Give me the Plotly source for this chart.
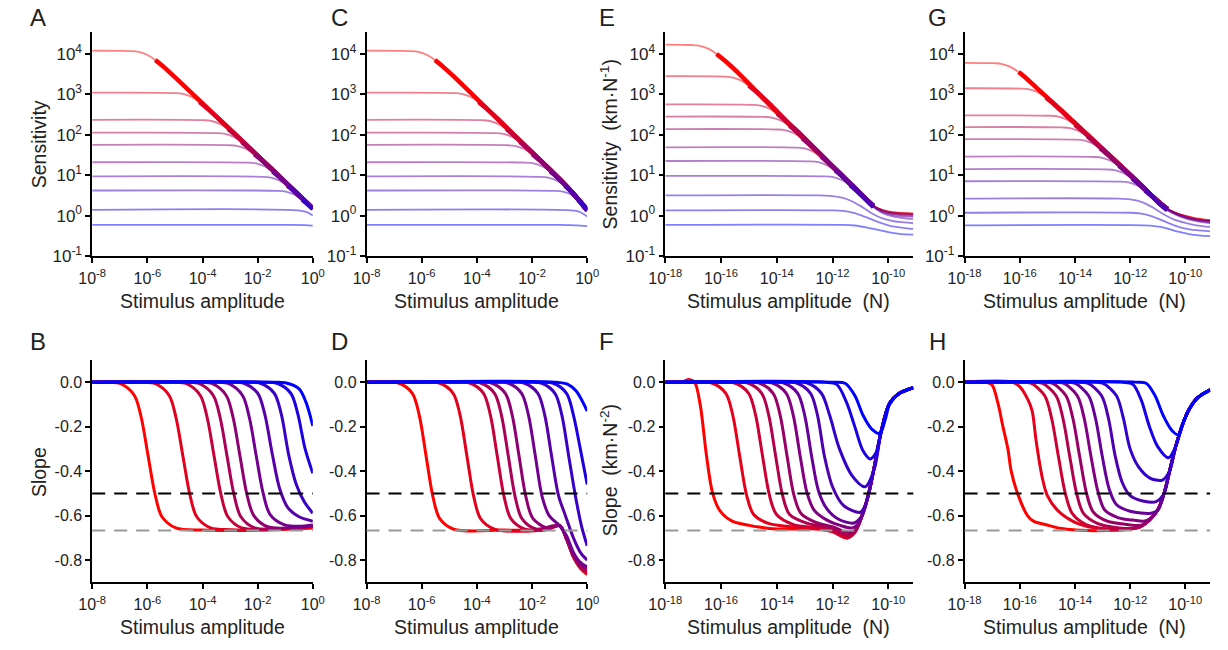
import numpy as np
import plotly.graph_objects as go

# ---------------- DATA (log10 stimulus, log10 sensitivity / slope) ----------------
# Panel A: sensitivity curves (10)
A_lx = [
    [-8, -6.61, -6.31, -6.01, -5.71, -5.41, -5.01, -3, -1, 0],
    [-8, -5.01, -4.71, -4.41, -4.11, -3.81, -3.41, -2, -1, 0],
    [-8, -3.97, -3.67, -3.37, -3.07, -2.77, -2.37, -1, 0],
    [-8, -3.48, -3.18, -2.88, -2.58, -2.28, -1.88, -1, 0],
    [-8, -3.02, -2.72, -2.42, -2.12, -1.82, -1.42, -0.7, 0],
    [-8, -2.36, -2.06, -1.76, -1.46, -1.16, -0.76, 0],
    [-8, -1.82, -1.52, -1.22, -0.92, -0.62, -0.22, 0],
    [-8, -1.28, -0.98, -0.68, -0.38, 0],
    [-8, -0.54, -0.24, 0],
    [-8, -1.0, -0.3, 0],
]
A_ly = [
    [4.08, 4.07, 4.05, 3.98, 3.85, 3.68, 3.43, 2.13, 0.83, 0.18],
    [3.04, 3.03, 3.01, 2.94, 2.81, 2.64, 2.39, 1.48, 0.83, 0.18],
    [2.37, 2.36, 2.34, 2.27, 2.14, 1.97, 1.72, 0.83, 0.17],
    [2.05, 2.04, 2.02, 1.95, 1.82, 1.65, 1.40, 0.83, 0.17],
    [1.75, 1.74, 1.72, 1.65, 1.52, 1.35, 1.10, 0.63, 0.17],
    [1.32, 1.31, 1.29, 1.22, 1.09, 0.92, 0.67, 0.17],
    [0.97, 0.96, 0.94, 0.87, 0.74, 0.57, 0.32, 0.17],
    [0.62, 0.61, 0.59, 0.52, 0.39, 0.17],
    [0.14, 0.13, 0.09, 0.0],
    [-0.23, -0.23, -0.235, -0.25],
]
A_thick_from = [-5.71, -4.11, -3.07, -2.58, -2.12, -1.46, -0.92, -0.38, None, None]
A_thick_to = 0

# Panel C
C_lx = [
    [-8, -6.42, -6.12, -5.82, -5.52, -5.22, -4.82, -3, -2, -1, -0.5, 0],
    [-8, -4.84, -4.54, -4.24, -3.94, -3.64, -3.24, -2, -1, -0.5, 0],
    [-8, -3.83, -3.53, -3.23, -2.93, -2.63, -2.23, -1, -0.5, 0],
    [-8, -3.34, -3.04, -2.74, -2.44, -2.14, -1.74, -1, -0.5, 0],
    [-8, -2.89, -2.59, -2.29, -1.99, -1.69, -1.29, -0.5, 0],
    [-8, -2.24, -1.94, -1.64, -1.34, -1.04, -0.64, 0],
    [-8, -1.71, -1.41, -1.11, -0.81, -0.51, 0],
    [-8, -1.18, -0.88, -0.58, -0.28, 0],
    [-8, -0.6, -0.3, 0],
    [-8, -1.0, -0.4, 0],
]
C_ly = [
    [4.08, 4.07, 4.05, 3.98, 3.85, 3.68, 3.43, 2.22, 1.56, 0.90, 0.54, 0.13],
    [3.04, 3.03, 3.01, 2.94, 2.81, 2.64, 2.39, 1.56, 0.90, 0.54, 0.13],
    [2.37, 2.36, 2.34, 2.27, 2.14, 1.97, 1.72, 0.90, 0.54, 0.13],
    [2.05, 2.04, 2.02, 1.95, 1.82, 1.65, 1.40, 0.90, 0.54, 0.13],
    [1.75, 1.74, 1.72, 1.65, 1.52, 1.35, 1.10, 0.54, 0.13],
    [1.32, 1.31, 1.29, 1.22, 1.09, 0.92, 0.64, 0.13],
    [0.97, 0.96, 0.94, 0.87, 0.74, 0.55, 0.12],
    [0.62, 0.61, 0.59, 0.52, 0.37, 0.16],
    [0.14, 0.13, 0.10, -0.02],
    [-0.23, -0.23, -0.24, -0.26],
]
C_thick_from = [-5.52, -3.94, -2.93, -2.44, -1.99, -1.34, -0.81, -0.28, None, None]
C_thick_to = 0

# Panel E (11 curves)
E_lx = [
    [-18, -17.06, -16.76, -16.46, -16.16, -15.86, -15.46, -14, -12, -11.47, -10.94, -10.53, -10.25, -9.95, -9.6, -9.1],
    [-18, -15.91, -15.61, -15.31, -15.01, -14.71, -14.31, -13, -12, -11.47, -10.94, -10.53, -10.25, -9.95, -9.6, -9.1],
    [-18, -14.88, -14.58, -14.28, -13.98, -13.68, -13.28, -12, -11.47, -10.94, -10.53, -10.25, -9.95, -9.6, -9.1],
    [-18, -14.44, -14.14, -13.84, -13.54, -13.24, -12.84, -12, -11.47, -10.94, -10.53, -10.25, -9.95, -9.6, -9.1],
    [-18, -13.98, -13.68, -13.38, -13.08, -12.78, -12.38, -11.47, -10.94, -10.53, -10.25, -9.95, -9.6, -9.1],
    [-18, -13.31, -13.01, -12.71, -12.41, -12.11, -11.71, -11.2, -10.94, -10.53, -10.25, -9.95, -9.6, -9.1],
    [-18, -12.81, -12.51, -12.21, -11.91, -11.61, -11.21, -10.94, -10.53, -10.25, -9.95, -9.6, -9.1],
    [-18, -12.27, -11.97, -11.67, -11.37, -11.07, -10.75, -10.53, -10.25, -9.95, -9.6, -9.1],
    [-18, -12.5, -12.0, -11.5, -11.0, -10.6, -10.2, -9.8, -9.4, -9.1],
    [-18, -12.0, -11.6, -11.2, -10.8, -10.4, -10.0, -9.6, -9.1],
    [-18, -11.6, -11.2, -10.8, -10.4, -10.0, -9.6, -9.1],
]
E_ly = [
    [4.23, 4.22, 4.20, 4.13, 4.00, 3.83, 3.58, 2.56, 1.21, 0.85, 0.50, 0.24, 0.15, 0.095, 0.07, 0.05],
    [3.45, 3.44, 3.42, 3.35, 3.22, 3.05, 2.80, 1.88, 1.21, 0.85, 0.50, 0.24, 0.15, 0.09, 0.065, 0.045],
    [2.75, 2.74, 2.72, 2.65, 2.52, 2.35, 2.10, 1.21, 0.85, 0.50, 0.24, 0.145, 0.085, 0.06, 0.04],
    [2.45, 2.44, 2.42, 2.35, 2.22, 2.05, 1.80, 1.21, 0.85, 0.50, 0.24, 0.14, 0.08, 0.05, 0.03],
    [2.14, 2.13, 2.11, 2.04, 1.91, 1.74, 1.49, 0.85, 0.50, 0.235, 0.13, 0.07, 0.04, 0.02],
    [1.69, 1.68, 1.66, 1.59, 1.46, 1.29, 1.04, 0.68, 0.50, 0.23, 0.12, 0.05, 0.02, 0.0],
    [1.35, 1.34, 1.32, 1.25, 1.12, 0.95, 0.70, 0.50, 0.225, 0.10, 0.03, -0.01, -0.03],
    [0.98, 0.97, 0.95, 0.88, 0.75, 0.58, 0.36, 0.21, 0.08, 0.0, -0.05, -0.09],
    [0.50, 0.50, 0.48, 0.41, 0.24, 0.06, -0.07, -0.14, -0.17, -0.19],
    [0.13, 0.13, 0.115, 0.06, -0.04, -0.15, -0.24, -0.29, -0.33],
    [-0.23, -0.23, -0.245, -0.29, -0.35, -0.41, -0.45, -0.47],
]
E_thick_from = [-16.16, -15.01, -13.98, -13.54, -13.08, -12.41, -11.91, -11.37, None, None, None]
E_thick_to = -10.53

# Panel G (11 curves)
G_lx = [
    [-18, -16.94, -16.64, -16.34, -16.04, -15.74, -15.34, -14, -12, -11.2, -10.9, -10.65, -10.35, -10.0, -9.6, -9.1],
    [-18, -15.95, -15.65, -15.35, -15.05, -14.75, -14.35, -13, -12, -11.2, -10.9, -10.65, -10.35, -10.0, -9.6, -9.1],
    [-18, -14.90, -14.60, -14.30, -14.00, -13.70, -13.30, -12, -11.2, -10.9, -10.65, -10.35, -10.0, -9.6, -9.1],
    [-18, -14.45, -14.15, -13.85, -13.55, -13.25, -12.85, -12, -11.2, -10.9, -10.65, -10.35, -10.0, -9.6, -9.1],
    [-18, -13.98, -13.68, -13.38, -13.08, -12.78, -12.38, -11.5, -11.2, -10.9, -10.65, -10.35, -10.0, -9.6, -9.1],
    [-18, -13.31, -13.01, -12.71, -12.41, -12.11, -11.71, -11.2, -10.9, -10.65, -10.35, -10.0, -9.6, -9.1],
    [-18, -12.83, -12.53, -12.23, -11.93, -11.63, -11.23, -10.9, -10.65, -10.35, -10.0, -9.6, -9.1],
    [-18, -12.36, -12.06, -11.76, -11.46, -11.16, -10.9, -10.65, -10.35, -10.0, -9.6, -9.1],
    [-18, -12.4, -12.0, -11.6, -11.2, -10.8, -10.4, -10.0, -9.6, -9.1],
    [-18, -12.0, -11.6, -11.2, -10.8, -10.4, -10.0, -9.6, -9.1],
    [-18, -11.5, -11.1, -10.7, -10.3, -9.9, -9.5, -9.1],
]
G_ly = [
    [3.78, 3.77, 3.75, 3.68, 3.55, 3.38, 3.13, 2.29, 1.01, 0.48, 0.30, 0.17, 0.07, -0.01, -0.07, -0.11],
    [3.15, 3.14, 3.12, 3.05, 2.92, 2.75, 2.50, 1.65, 1.01, 0.48, 0.30, 0.17, 0.07, -0.01, -0.075, -0.115],
    [2.48, 2.47, 2.45, 2.38, 2.25, 2.08, 1.83, 1.01, 0.48, 0.30, 0.17, 0.065, -0.015, -0.08, -0.12],
    [2.19, 2.18, 2.16, 2.09, 1.96, 1.79, 1.54, 1.01, 0.48, 0.30, 0.165, 0.06, -0.02, -0.09, -0.13],
    [1.89, 1.88, 1.86, 1.79, 1.66, 1.49, 1.24, 0.69, 0.48, 0.30, 0.16, 0.055, -0.03, -0.10, -0.14],
    [1.46, 1.45, 1.43, 1.36, 1.23, 1.06, 0.81, 0.47, 0.29, 0.155, 0.05, -0.04, -0.11, -0.15],
    [1.15, 1.14, 1.12, 1.05, 0.92, 0.75, 0.50, 0.28, 0.145, 0.04, -0.05, -0.12, -0.16],
    [0.85, 0.84, 0.82, 0.75, 0.62, 0.45, 0.27, 0.13, 0.02, -0.07, -0.14, -0.19],
    [0.42, 0.42, 0.40, 0.34, 0.21, 0.04, -0.10, -0.18, -0.24, -0.28],
    [0.07, 0.07, 0.05, -0.02, -0.13, -0.24, -0.32, -0.36, -0.39],
    [-0.24, -0.24, -0.26, -0.31, -0.39, -0.45, -0.49, -0.51],
]
G_thick_from = [-16.04, -15.05, -14.00, -13.55, -13.08, -12.41, -11.93, -11.46, None, None, None]
G_thick_to = -10.65

# Panel B: slope curves (10)
B_lx = [
    [-8, -7.47, -6.97, -6.47, -6.22, -5.97, -5.72, -5.47, -4.97, -4, -2, 0],
    [-8, -6.21, -5.71, -5.21, -4.96, -4.71, -4.46, -4.21, -3.71, -3, -1.5, 0],
    [-8, -5.08, -4.58, -4.08, -3.83, -3.58, -3.33, -3.08, -2.58, -1.5, 0],
    [-8, -4.61, -4.11, -3.61, -3.36, -3.11, -2.86, -2.61, -2.11, -1, 0],
    [-8, -4.14, -3.64, -3.14, -2.89, -2.64, -2.39, -2.14, -1.64, -0.8, 0],
    [-8, -3.55, -3.05, -2.55, -2.30, -2.05, -1.80, -1.55, -1.05, -0.5, 0],
    [-8, -3.0, -2.5, -2.0, -1.75, -1.46, -1.2, -0.9, -0.5, 0],
    [-8, -2.4, -1.9, -1.4, -1.15, -0.87, -0.6, -0.3, 0],
    [-8, -1.8, -1.3, -0.8, -0.55, -0.28, 0],
    [-8, -1.5, -1.0, -0.5, -0.25, 0],
]
B_y = [
    [0, 0, -0.007, -0.06, -0.16, -0.333, -0.505, -0.605, -0.655, -0.665, -0.665, -0.655],
    [0, 0, -0.007, -0.06, -0.16, -0.333, -0.505, -0.605, -0.655, -0.663, -0.662, -0.650],
    [0, 0, -0.007, -0.06, -0.16, -0.333, -0.505, -0.605, -0.655, -0.660, -0.648],
    [0, 0, -0.007, -0.06, -0.16, -0.333, -0.505, -0.605, -0.655, -0.658, -0.646],
    [0, 0, -0.007, -0.06, -0.16, -0.333, -0.505, -0.600, -0.650, -0.655, -0.645],
    [0, 0, -0.007, -0.06, -0.16, -0.333, -0.500, -0.595, -0.640, -0.648, -0.642],
    [0, 0, -0.005, -0.05, -0.14, -0.33, -0.48, -0.565, -0.605, -0.625],
    [0, 0, -0.005, -0.05, -0.14, -0.33, -0.46, -0.54, -0.589],
    [0, 0, -0.005, -0.05, -0.14, -0.30, -0.41],
    [0, 0, -0.003, -0.03, -0.09, -0.197],
]

# Panel D
D_lx = [
    [-8, -7.34, -6.84, -6.34, -6.09, -5.84, -5.59, -5.34, -4.84, -3, -1.5, -1.0, -0.75, -0.5, -0.25, 0],
    [-8, -5.86, -5.36, -4.86, -4.61, -4.36, -4.11, -3.86, -3.36, -1.5, -1.0, -0.75, -0.5, -0.25, 0],
    [-8, -4.76, -4.26, -3.76, -3.51, -3.26, -3.01, -2.76, -2.26, -1.5, -1.0, -0.75, -0.5, -0.25, 0],
    [-8, -4.36, -3.86, -3.36, -3.11, -2.86, -2.61, -2.36, -1.86, -1.0, -0.75, -0.5, -0.25, 0],
    [-8, -3.97, -3.47, -2.97, -2.72, -2.47, -2.22, -1.97, -1.47, -1.0, -0.75, -0.5, -0.25, 0],
    [-8, -3.38, -2.88, -2.38, -2.13, -1.88, -1.63, -1.38, -1.0, -0.75, -0.5, -0.25, 0],
    [-8, -2.79, -2.29, -1.79, -1.54, -1.29, -1.04, -0.79, -0.5, -0.25, 0],
    [-8, -2.17, -1.67, -1.17, -0.92, -0.67, -0.42, -0.2, 0],
    [-8, -1.75, -1.25, -0.75, -0.5, -0.25, 0],
    [-8, -1.2, -0.7, -0.4, -0.2, 0],
]
D_y = [
    [0, 0, -0.004, -0.05, -0.148, -0.333, -0.517, -0.615, -0.661, -0.665, -0.663, -0.645, -0.705, -0.785, -0.835, -0.865],
    [0, 0, -0.004, -0.05, -0.148, -0.333, -0.517, -0.615, -0.661, -0.663, -0.645, -0.705, -0.785, -0.835, -0.860],
    [0, 0, -0.004, -0.05, -0.148, -0.333, -0.517, -0.615, -0.661, -0.662, -0.645, -0.705, -0.783, -0.832, -0.855],
    [0, 0, -0.004, -0.05, -0.148, -0.333, -0.517, -0.615, -0.660, -0.645, -0.705, -0.780, -0.828, -0.850],
    [0, 0, -0.004, -0.05, -0.148, -0.333, -0.517, -0.612, -0.655, -0.645, -0.700, -0.775, -0.820, -0.840],
    [0, 0, -0.004, -0.05, -0.148, -0.333, -0.517, -0.600, -0.645, -0.690, -0.765, -0.810, -0.830],
    [0, 0, -0.004, -0.05, -0.148, -0.333, -0.510, -0.600, -0.700, -0.765, -0.800],
    [0, 0, -0.004, -0.05, -0.148, -0.333, -0.517, -0.650, -0.735],
    [0, 0, -0.004, -0.05, -0.148, -0.300, -0.460],
    [0, 0, -0.01, -0.04, -0.08, -0.13],
]

# Panel F (11)
F_lx = [
    [-18, -17.4, -17.15, -16.95, -16.75, -16.52, -16.3, -16.03, -15.6, -14.7, -14.0, -12.5, -12.0, -11.47, -11.2, -10.94, -10.70, -10.50, -10.25, -9.95, -9.6, -9.1],
    [-18, -16.83, -16.33, -15.83, -15.58, -15.33, -15.08, -14.83, -14.3, -13.5, -12.5, -12.0, -11.47, -11.2, -10.94, -10.70, -10.50, -10.25, -9.95, -9.6, -9.1],
    [-18, -16.01, -15.51, -15.01, -14.76, -14.51, -14.26, -14.01, -13.4, -12.5, -12.0, -11.44, -11.2, -10.94, -10.70, -10.50, -10.25, -9.95, -9.6, -9.1],
    [-18, -15.54, -15.04, -14.54, -14.29, -14.04, -13.79, -13.54, -12.9, -12.3, -11.9, -11.41, -11.2, -10.94, -10.70, -10.50, -10.25, -9.95, -9.6, -9.1],
    [-18, -15.13, -14.63, -14.13, -13.88, -13.63, -13.38, -13.13, -12.6, -12.0, -11.35, -11.1, -10.94, -10.70, -10.50, -10.25, -9.95, -9.6, -9.1],
    [-18, -14.66, -14.16, -13.66, -13.41, -13.16, -12.91, -12.66, -12.2, -11.7, -11.29, -11.1, -10.94, -10.70, -10.50, -10.25, -9.95, -9.6, -9.1],
    [-18, -14.25, -13.75, -13.25, -13.0, -12.75, -12.5, -12.2, -11.8, -11.23, -10.94, -10.70, -10.50, -10.25, -9.95, -9.6, -9.1],
    [-18, -13.79, -13.29, -12.79, -12.54, -12.29, -12.0, -11.6, -11.0, -10.85, -10.70, -10.50, -10.25, -9.95, -9.6, -9.1],
    [-18, -13.4, -12.9, -12.4, -12.1, -11.75, -11.3, -10.83, -10.50, -10.25, -9.95, -9.6, -9.1],
    [-18, -12.3, -11.85, -11.5, -11.2, -10.9, -10.65, -10.45, -10.25, -9.95, -9.6, -9.1],
    [-18, -12.0, -11.55, -11.2, -10.9, -10.6, -10.3, -10.1, -9.95, -9.6, -9.1],
]
F_y = [
    [0, 0, 0.012, 0.0, -0.10, -0.333, -0.50, -0.58, -0.625, -0.65, -0.66, -0.66, -0.672, -0.70, -0.675, -0.60, -0.50, -0.38, -0.22, -0.095, -0.05, -0.025],
    [0, 0, -0.004, -0.05, -0.148, -0.333, -0.51, -0.595, -0.635, -0.65, -0.66, -0.672, -0.70, -0.675, -0.60, -0.50, -0.38, -0.22, -0.095, -0.05, -0.025],
    [0, 0, -0.004, -0.05, -0.148, -0.333, -0.51, -0.595, -0.64, -0.655, -0.67, -0.697, -0.675, -0.60, -0.50, -0.38, -0.22, -0.095, -0.05, -0.025],
    [0, 0, -0.004, -0.05, -0.148, -0.333, -0.51, -0.595, -0.635, -0.65, -0.665, -0.689, -0.672, -0.60, -0.50, -0.38, -0.22, -0.095, -0.05, -0.025],
    [0, 0, -0.004, -0.05, -0.148, -0.333, -0.51, -0.59, -0.63, -0.65, -0.677, -0.65, -0.60, -0.50, -0.38, -0.22, -0.095, -0.05, -0.025],
    [0, 0, -0.004, -0.05, -0.148, -0.333, -0.50, -0.575, -0.62, -0.645, -0.655, -0.64, -0.60, -0.50, -0.38, -0.22, -0.095, -0.05, -0.025],
    [0, 0, -0.004, -0.05, -0.148, -0.333, -0.49, -0.57, -0.615, -0.633, -0.60, -0.50, -0.38, -0.22, -0.095, -0.05, -0.025],
    [0, 0, -0.004, -0.05, -0.148, -0.333, -0.47, -0.555, -0.585, -0.56, -0.50, -0.38, -0.22, -0.095, -0.05, -0.025],
    [0, 0, -0.004, -0.05, -0.15, -0.30, -0.42, -0.47, -0.39, -0.22, -0.095, -0.05, -0.025],
    [0, 0, -0.01, -0.09, -0.20, -0.31, -0.345, -0.32, -0.22, -0.095, -0.05, -0.025],
    [0, 0, -0.005, -0.06, -0.15, -0.21, -0.23, -0.165, -0.10, -0.05, -0.025],
]

# Panel H (11)
H_lx = [
    [-18, -17.3, -17.02, -16.8, -16.61, -16.43, -16.31, -16.08, -15.72, -15.49, -15.07, -14.48, -13.54, -12.48, -12.0, -11.6, -11.3, -11.0, -10.77, -10.57, -10.35, -10.1, -9.85, -9.55, -9.1],
    [-18, -16.3, -16.0, -15.7, -15.55, -15.4, -15.2, -15.0, -14.6, -14.0, -13.3, -12.5, -12.0, -11.6, -11.3, -11.0, -10.77, -10.57, -10.35, -10.1, -9.85, -9.55, -9.1],
    [-18, -16.1, -15.6, -15.1, -14.85, -14.6, -14.35, -14.1, -13.6, -12.8, -12.0, -11.6, -11.3, -11.0, -10.77, -10.57, -10.35, -10.1, -9.85, -9.55, -9.1],
    [-18, -15.69, -15.19, -14.69, -14.44, -14.19, -13.94, -13.69, -13.19, -12.4, -11.8, -11.3, -11.0, -10.77, -10.57, -10.35, -10.1, -9.85, -9.55, -9.1],
    [-18, -15.33, -14.83, -14.33, -14.08, -13.83, -13.58, -13.33, -12.83, -12.1, -11.59, -11.3, -11.0, -10.77, -10.57, -10.35, -10.1, -9.85, -9.55, -9.1],
    [-18, -14.92, -14.42, -13.92, -13.67, -13.42, -13.17, -12.92, -12.42, -11.9, -11.42, -11.0, -10.77, -10.57, -10.35, -10.1, -9.85, -9.55, -9.1],
    [-18, -14.51, -14.01, -13.51, -13.26, -13.01, -12.76, -12.5, -12.0, -11.24, -11.0, -10.77, -10.57, -10.35, -10.1, -9.85, -9.55, -9.1],
    [-18, -14.04, -13.54, -13.04, -12.79, -12.54, -12.29, -12.0, -11.5, -11.06, -10.77, -10.57, -10.35, -10.1, -9.85, -9.55, -9.1],
    [-18, -13.5, -13.0, -12.5, -12.25, -12.0, -11.7, -11.3, -10.83, -10.57, -10.35, -10.1, -9.85, -9.55, -9.1],
    [-18, -12.3, -11.9, -11.6, -11.3, -11.0, -10.61, -10.35, -10.1, -9.85, -9.55, -9.1],
    [-18, -11.8, -11.42, -11.1, -10.8, -10.5, -10.24, -10.1, -9.85, -9.55, -9.1],
]
H_y = [
    [0, 0, -0.01, -0.09, -0.20, -0.30, -0.40, -0.50, -0.60, -0.626, -0.64, -0.658, -0.667, -0.665, -0.66, -0.648, -0.62, -0.575, -0.50, -0.40, -0.29, -0.19, -0.12, -0.07, -0.035],
    [0, 0, -0.02, -0.08, -0.13, -0.27, -0.42, -0.51, -0.58, -0.63, -0.655, -0.665, -0.66, -0.648, -0.62, -0.575, -0.50, -0.40, -0.29, -0.19, -0.12, -0.07, -0.035],
    [0, 0, -0.005, -0.06, -0.16, -0.333, -0.50, -0.59, -0.64, -0.66, -0.66, -0.648, -0.62, -0.575, -0.50, -0.40, -0.29, -0.19, -0.12, -0.07, -0.035],
    [0, 0, -0.005, -0.06, -0.16, -0.333, -0.50, -0.59, -0.635, -0.655, -0.655, -0.62, -0.575, -0.50, -0.40, -0.29, -0.19, -0.12, -0.07, -0.035],
    [0, 0, -0.005, -0.06, -0.16, -0.333, -0.50, -0.585, -0.625, -0.64, -0.643, -0.62, -0.575, -0.50, -0.40, -0.29, -0.19, -0.12, -0.07, -0.035],
    [0, 0, -0.005, -0.06, -0.16, -0.333, -0.49, -0.575, -0.61, -0.62, -0.623, -0.575, -0.50, -0.40, -0.29, -0.19, -0.12, -0.07, -0.035],
    [0, 0, -0.005, -0.06, -0.16, -0.333, -0.48, -0.55, -0.58, -0.589, -0.575, -0.50, -0.40, -0.29, -0.19, -0.12, -0.07, -0.035],
    [0, 0, -0.005, -0.06, -0.16, -0.333, -0.45, -0.51, -0.535, -0.537, -0.50, -0.40, -0.29, -0.19, -0.12, -0.07, -0.035],
    [0, 0, -0.005, -0.06, -0.16, -0.30, -0.38, -0.43, -0.44, -0.40, -0.29, -0.19, -0.12, -0.07, -0.035],
    [0, 0, -0.01, -0.08, -0.20, -0.29, -0.34, -0.29, -0.19, -0.12, -0.07, -0.035],
    [0, 0, -0.005, -0.06, -0.15, -0.215, -0.237, -0.19, -0.12, -0.07, -0.035],
]

ref_levels = [-0.5, -0.667]
ref_colors = ["black", "#999999"]

x_ticks_AC = [-8, -6, -4, -2, 0]
x_ticks_EG = [-18, -16, -14, -12, -10]
y_ticks_top = [-1, 0, 1, 2, 3, 4]
y_ticks_bot = [0.0, -0.2, -0.4, -0.6, -0.8]

# ---------------- FIGURE ----------------
W, H = 1228, 650
FONT = "Liberation Sans, Arial, sans-serif"
fig = go.Figure()


def color(i, n, a=1.0):
    t = i / (n - 1)
    return f"rgba({round(255 * (1 - t))},0,{round(255 * t)},{a})"


def pxx(p):
    return p / W


def pxy(p):
    return 1 - p / H


cols = [(77, 303), (358, 584), (664, 918), (970.5, 1222)]
rows = [(33, 260), (365.5, 591.5)]

top = [(A_lx, A_ly, A_thick_from, A_thick_to), (C_lx, C_ly, C_thick_from, C_thick_to),
       (E_lx, E_ly, E_thick_from, E_thick_to), (G_lx, G_ly, G_thick_from, G_thick_to)]
bot = [(B_lx, B_y), (D_lx, D_y), (F_lx, F_y), (H_lx, H_y)]
xranges = [[-8, 0], [-8, 0], [-18, -9.1], [-18, -9.1]]
xticks = [x_ticks_AC, x_ticks_AC, x_ticks_EG, x_ticks_EG]

axis_common = dict(showline=True, linecolor="black", linewidth=1.6, ticks="outside",
                   ticklen=5, tickwidth=1.6, tickcolor="black", showgrid=False,
                   zeroline=False, tickfont=dict(family=FONT, size=16, color="#222"))

layout = {}
for c in range(4):
    for r in range(2):
        k = 1 + c + 4 * r
        xs = "" if k == 1 else str(k)
        xd = [pxx(cols[c][0]), pxx(cols[c][1])]
        yd = [pxy(rows[r][1]), pxy(rows[r][0])]
        xt = xticks[c]
        layout[f"xaxis{xs}"] = dict(axis_common, type="log", range=xranges[c], domain=xd,
                                    anchor=f"y{xs}", tickvals=[10.0 ** v for v in xt],
                                    ticktext=[f"10<sup>{v}</sup>" for v in xt],
                                    ticklabelstandoff=2)
        if r == 0:
            layout[f"yaxis{xs}"] = dict(axis_common, type="log", range=[-1, 4.53], domain=yd,
                                        anchor=f"x{xs}", tickvals=[10.0 ** v for v in y_ticks_top],
                                        ticktext=[f"10<sup>{v}</sup>" for v in y_ticks_top],
                                        tickfont=dict(family=FONT, size=17, color="#222"))
        else:
            layout[f"yaxis{xs}"] = dict(axis_common, range=[-0.9, 0.1], domain=yd,
                                        anchor=f"x{xs}", tickvals=y_ticks_bot,
                                        ticktext=[f"{v:.1f}" for v in y_ticks_bot])

# top panels
for c, (lx, ly, tfrom, tto) in enumerate(top):
    xs = "" if c == 0 else str(1 + c)
    n = len(lx)
    for i in range(n):
        fig.add_trace(go.Scatter(x=10.0 ** np.array(lx[i]), y=10.0 ** np.array(ly[i]),
                                 mode="lines", xaxis=f"x{xs}", yaxis=f"y{xs}",
                                 line=dict(color=color(i, n, 0.5), width=1.8, shape="spline", smoothing=0.9),
                                 hoverinfo="skip"))
    for i in range(n):
        if tfrom[i] is None:
            continue
        sel = [(a, b) for a, b in zip(lx[i], ly[i]) if tfrom[i] - 1e-9 <= a <= tto + 1e-9]
        fig.add_trace(go.Scatter(x=[10.0 ** a for a, _ in sel], y=[10.0 ** b for _, b in sel],
                                 mode="lines", xaxis=f"x{xs}", yaxis=f"y{xs}",
                                 line=dict(color=color(i, n), width=4.5, shape="spline", smoothing=0.9),
                                 hoverinfo="skip"))

# bottom panels
shapes = []
for c, (lx, yy) in enumerate(bot):
    k = 5 + c
    n = len(lx)
    for i in range(n):
        fig.add_trace(go.Scatter(x=10.0 ** np.array(lx[i]), y=yy[i], mode="lines",
                                 xaxis=f"x{k}", yaxis=f"y{k}",
                                 line=dict(color=color(i, n), width=3, shape="spline", smoothing=0.9),
                                 hoverinfo="skip"))
    for lv, lc in zip(ref_levels, ref_colors):
        shapes.append(dict(type="line", xref=f"x{k} domain", x0=0, x1=1, yref=f"y{k}", y0=lv, y1=lv,
                           line=dict(color=lc, width=2, dash="13px,9px"), layer="above"))

ann = []
letters = [("A", 21, 18), ("B", 21, 347), ("C", 330, 18), ("D", 330, 347),
           ("E", 604, 18), ("F", 604, 347), ("G", 943, 18), ("H", 943, 347)]
for t, x, y in letters:
    ann.append(dict(text=t, x=pxx(x), y=pxy(y), xref="paper", yref="paper", showarrow=False,
                    xanchor="center", yanchor="middle", font=dict(family=FONT, size=24, color="#222")))
xt1 = "Stimulus amplitude"
xt2 = "Stimulus amplitude\u00a0\u00a0(N)"
xtitles = [(xt1, 190, 306), (xt1, 471, 306), (xt2, 790, 306), (xt2, 1093, 306),
           (xt1, 190, 637), (xt1, 471, 637), (xt2, 790, 637), (xt2, 1093, 637)]
for t, x, y in xtitles:
    ann.append(dict(text=t, x=pxx(x), y=pxy(y), xref="paper", yref="paper", showarrow=False,
                    xanchor="center", yanchor="middle", font=dict(family=FONT, size=19.5, color="#222")))
ytitles = [("Sensitivity", 22, 146), ("Slope", 22, 479),
           ("Sensitivity\u00a0\u00a0(km\u00b7N<sup>-1</sup>)", 606, 147),
           ("Slope\u00a0\u00a0(km\u00b7N<sup>-2</sup>)", 606, 478)]
for t, x, y in ytitles:
    ann.append(dict(text=t, x=pxx(x), y=pxy(y), xref="paper", yref="paper", showarrow=False,
                    xanchor="center", yanchor="middle", textangle=-90,
                    font=dict(family=FONT, size=19.5, color="#222")))

fig.update_layout(width=W, height=H, autosize=False, margin=dict(l=0, r=0, t=0, b=0),
                  paper_bgcolor="white", plot_bgcolor="white", showlegend=False,
                  shapes=shapes, annotations=ann, **layout)

fig.write_html("out.html")
